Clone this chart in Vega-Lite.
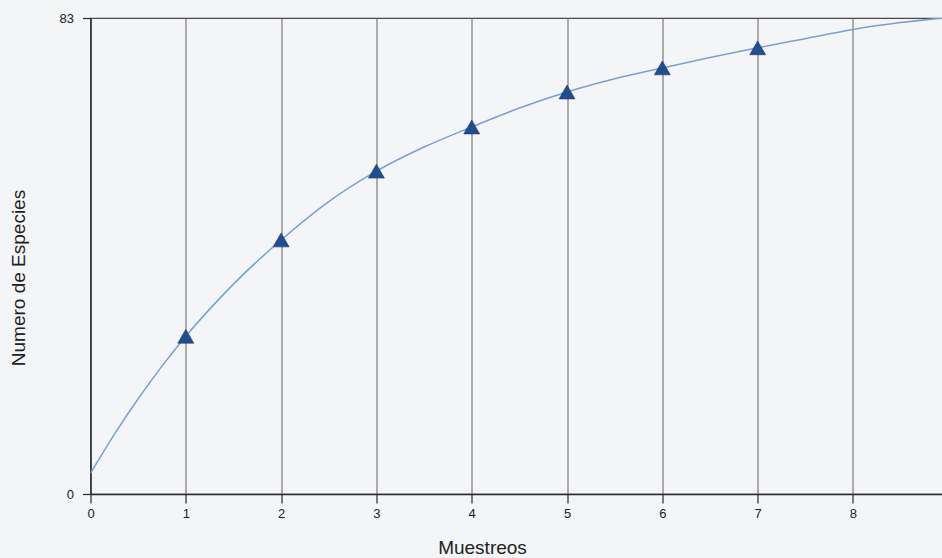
{
  "$schema": "https://vega.github.io/schema/vega-lite/v6.json",
  "autosize": {"type": "none"},
  "padding": {"left": 90.5, "top": 18, "right": 0, "bottom": 64},
  "width": 853,
  "height": 476,
  "background": "#f4f5f7",
  "config": {
    "view": {"stroke": "#4a4a4a", "strokeWidth": 1.2},
    "axis": {
      "labelFont": "Liberation Sans",
      "titleFont": "Liberation Sans",
      "labelFontSize": 13,
      "labelColor": "#222222",
      "titleColor": "#222222",
      "titleFontWeight": "normal",
      "domainColor": "#2a2a2a",
      "domainWidth": 1.3,
      "tickColor": "#2a2a2a",
      "tickWidth": 1.2
    }
  },
  "datasets": {
    "muestras": [
      {"muestreo": 1, "especies": 27.5},
      {"muestreo": 2, "especies": 44.3},
      {"muestreo": 3, "especies": 56.3},
      {"muestreo": 4, "especies": 64.0},
      {"muestreo": 5, "especies": 70.1},
      {"muestreo": 6, "especies": 74.3},
      {"muestreo": 7, "especies": 77.8}
    ],
    "curva": [
      {"muestreo": 0, "especies": 3.6},
      {"muestreo": 0.25, "especies": 10.4},
      {"muestreo": 0.5, "especies": 16.6},
      {"muestreo": 0.75, "especies": 22.3},
      {"muestreo": 1, "especies": 27.5},
      {"muestreo": 1.5, "especies": 36.6},
      {"muestreo": 2, "especies": 44.3},
      {"muestreo": 2.5, "especies": 51.0},
      {"muestreo": 3, "especies": 56.3},
      {"muestreo": 3.5, "especies": 60.5},
      {"muestreo": 4, "especies": 64.0},
      {"muestreo": 4.5, "especies": 67.3},
      {"muestreo": 5, "especies": 70.1},
      {"muestreo": 5.5, "especies": 72.4},
      {"muestreo": 6, "especies": 74.3},
      {"muestreo": 6.5, "especies": 76.1},
      {"muestreo": 7, "especies": 77.8},
      {"muestreo": 7.5, "especies": 79.4},
      {"muestreo": 8, "especies": 81.0},
      {"muestreo": 8.5, "especies": 82.2},
      {"muestreo": 8.95, "especies": 83.0}
    ]
  },
  "layer": [
    {
      "data": {"name": "curva"},
      "mark": {"type": "line", "interpolate": "monotone", "color": "#7b9fd2", "strokeWidth": 1.5, "clip": true},
      "encoding": {
        "x": {
          "field": "muestreo",
          "type": "quantitative",
          "scale": {"domain": [0, 8.95], "nice": false, "zero": false},
          "axis": {
            "title": "Muestreos",
            "titleFontSize": 19,
            "titleX": 391.5,
            "titleY": 53,
            "titleAnchor": null,
            "titleAlign": "center",
            "titleBaseline": "middle",
            "values": [0, 1, 2, 3, 4, 5, 6, 7, 8],
            "format": "d",
            "grid": true,
            "gridColor": "#626262",
            "gridWidth": 1,
            "gridOpacity": 1,
            "tickSize": 9,
            "labelPadding": 4,
            "labelFlush": false
          }
        },
        "y": {
          "field": "especies",
          "type": "quantitative",
          "scale": {"domain": [0, 83], "nice": false},
          "axis": {
            "title": "Numero de Especies",
            "titleFontSize": 19,
            "titleX": -72,
            "titleY": 259.5,
            "titleAnchor": null,
            "titleAlign": "center",
            "titleBaseline": "middle",
            "values": [0, 83],
            "grid": false,
            "tickSize": 8,
            "labelPadding": 9,
            "labelFlush": false
          }
        }
      }
    },
    {
      "data": {"name": "muestras"},
      "mark": {"type": "point", "shape": "triangle-up", "filled": true, "size": 256, "color": "#1d4f91", "stroke": "#2a3560", "strokeWidth": 0.6, "opacity": 1},
      "encoding": {
        "x": {"field": "muestreo", "type": "quantitative"},
        "y": {"field": "especies", "type": "quantitative"}
      }
    }
  ]
}
